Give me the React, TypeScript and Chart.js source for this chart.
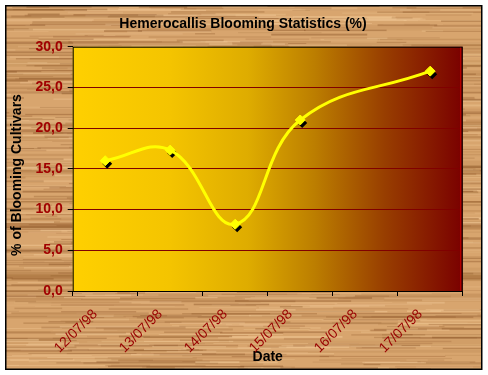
import { useEffect, useRef } from "react";
import { Chart, registerables } from "chart.js";

Chart.register(...registerables);

const categories = ["12/07/98", "13/07/98", "14/07/98", "15/07/98", "16/07/98", "17/07/98"];
const bloomingPct: (number | null)[] = [16.0, 17.3, 8.2, 21.0, null, 27.0];
const yMin = 0;
const yMax = 30;
const yStep = 5;
const titleText = "Hemerocallis Blooming Statistics (%)";
const xTitleText = "Date";
const yTitleText = "% of Blooming Cultivars";

const FONT = "'Liberation Sans', Arial, sans-serif";

function makeWood(w: number, h: number): HTMLCanvasElement {
  const c = document.createElement("canvas");
  c.width = w;
  c.height = h;
  const g = c.getContext("2d")!;
  g.fillStyle = "#D8A56E";
  g.fillRect(0, 0, w, h);
  let s = 987654;
  const rnd = () => {
    s = (s * 1103515245 + 12345) & 0x7fffffff;
    return s / 0x7fffffff;
  };
  for (let i = 0; i < 40; i++) {
    const y = rnd() * h;
    const th = 2 + rnd() * 6;
    g.fillStyle = `rgba(150,95,45,${0.08 + rnd() * 0.15})`;
    g.fillRect(0, y, w, th);
  }
  for (let i = 0; i < 1400; i++) {
    const y = rnd() * h;
    const x = rnd() * w - 40;
    const len = 15 + rnd() * 140;
    const th = 0.6 + rnd() * 1.4;
    const dark = rnd() < 0.55;
    g.fillStyle = dark
      ? `rgba(135,80,35,${0.12 + rnd() * 0.3})`
      : `rgba(245,205,155,${0.15 + rnd() * 0.35})`;
    g.fillRect(x, y, len, th);
  }
  return c;
}

export default function App() {
  const ref = useRef<HTMLCanvasElement | null>(null);

  useEffect(() => {
    document.body.style.margin = "0";
    const canvas = ref.current!;
    const wood = makeWood(488, 375);

    const bgPlugin = {
      id: "bgPlugin",
      beforeDraw(chart: any) {
        const ctx = chart.ctx as CanvasRenderingContext2D;
        const { left, right, top, bottom } = chart.chartArea;
        ctx.save();
        ctx.fillStyle = "#ffffff";
        ctx.fillRect(0, 0, chart.width, chart.height);
        ctx.drawImage(wood, 6, 6, 476, 363, 6, 6, 476, 363);
        ctx.strokeStyle = "#000000";
        ctx.lineWidth = 1.5;
        ctx.strokeRect(5.75, 5.75, 476, 363.5);
        const grad = ctx.createLinearGradient(left, 0, right, 0);
        grad.addColorStop(0, "#FFD000");
        grad.addColorStop(0.25, "#F4C400");
        grad.addColorStop(0.45, "#DEAC00");
        grad.addColorStop(0.62, "#BC7E00");
        grad.addColorStop(0.8, "#983E00");
        grad.addColorStop(1, "#7A0000");
        ctx.fillStyle = grad;
        ctx.fillRect(left, top, right - left, bottom - top);
        ctx.fillStyle = "#000000";
        ctx.textAlign = "center";
        ctx.textBaseline = "middle";
        ctx.font = `bold 14px ${FONT}`;
        ctx.fillText(titleText, 243, 24);
        ctx.fillText(xTitleText, (left + right) / 2, 357);
        ctx.save();
        ctx.translate(17.5, 175);
        ctx.rotate(-Math.PI / 2);
        ctx.fillText(yTitleText, 0, 0);
        ctx.restore();
        ctx.restore();
      },
      beforeDatasetsDraw(chart: any) {
        const ctx = chart.ctx as CanvasRenderingContext2D;
        const { left, right, top, bottom } = chart.chartArea;
        ctx.save();
        ctx.strokeStyle = "#000000";
        ctx.lineWidth = 1;
        ctx.strokeRect(left + 0.5, top + 0.5, right - left - 1, bottom - top);
        ctx.strokeStyle = "#C00000";
        ctx.beginPath();
        ctx.moveTo(right - 2, top + 1);
        ctx.lineTo(right - 2, bottom);
        ctx.stroke();
        const meta = chart.getDatasetMeta(0);
        ctx.fillStyle = "#000000";
        meta.data.forEach((pt: any, i: number) => {
          if (bloomingPct[i] == null) return;
          const x = pt.x + 2;
          const y = pt.y + 3;
          const r = 5;
          ctx.beginPath();
          ctx.moveTo(x, y - r);
          ctx.lineTo(x + r, y);
          ctx.lineTo(x, y + r);
          ctx.lineTo(x - r, y);
          ctx.closePath();
          ctx.fill();
        });
        ctx.restore();
      },
    };

    const chart = new Chart(canvas, {
      type: "line",
      data: {
        labels: categories,
        datasets: [
          {
            data: bloomingPct,
            borderColor: "#FFFF00",
            borderWidth: 3,
            tension: 0.42,
            spanGaps: true,
            pointStyle: "rectRot",
            pointRadius: 5,
            pointBackgroundColor: "#FFFF00",
            pointBorderColor: "#FFFF00",
            pointBorderWidth: 1,
          },
        ],
      },
      options: {
        animation: false,
        responsive: false,
        devicePixelRatio: 1,
        layout: { padding: { left: 0, right: 25.3, top: 46.7, bottom: 0 } },
        plugins: {
          legend: { display: false },
          title: { display: false },
          tooltip: { enabled: false },
        },
        scales: {
          x: {
            type: "category",
            offset: true,
            afterFit(scale: any) {
              scale.height = 84;
            },
            grid: {
              offset: true,
              drawOnChartArea: false,
              drawTicks: true,
              tickLength: 5,
              color: "#000000",
            },
            border: { display: false },
            ticks: {
              minRotation: 45,
              maxRotation: 45,
              autoSkip: false,
              color: "#990000",
              padding: 10,
              labelOffset: -10,
              font: { family: FONT, size: 14 },
            },
          },
          y: {
            min: yMin,
            max: yMax,
            afterFit(scale: any) {
              scale.width = 72.7;
            },
            grid: {
              color: (c: any) =>
                c.tick && (c.tick.value === yMin || c.tick.value === yMax) ? "rgba(0,0,0,0)" : "#800000",
              tickColor: "#000000",
              tickLength: 5,
              drawTicks: true,
            },
            border: { display: false },
            ticks: {
              stepSize: yStep,
              color: "#A00000",
              padding: 5,
              font: { family: FONT, size: 14, weight: "bold" },
              callback: (v: any) => Number(v).toFixed(1).replace(".", ","),
            },
          },
        },
      },
      plugins: [bgPlugin],
    } as any);

    return () => chart.destroy();
  }, []);

  return (
    <div style={{ width: 488, height: 375 }}>
      <canvas ref={ref} width={488} height={375} style={{ display: "block" }} />
    </div>
  );
}
